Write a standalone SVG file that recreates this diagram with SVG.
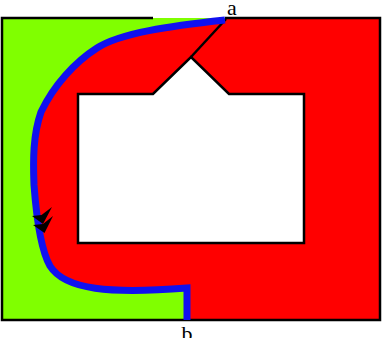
<svg xmlns="http://www.w3.org/2000/svg" width="388" height="338" viewBox="0 0 388 338">
<style>
.edge{fill:none;stroke:#000;stroke-width:2.5}
.lbl{font-family:"Liberation Serif","DejaVu Serif",serif;font-size:22px;fill:#000;text-anchor:middle}
.arr{fill:#000}
</style>
<rect width="388" height="338" fill="#fff"/>
<g id="region">
<rect x="2" y="18" width="378" height="302" fill="#ff0000"/>
<path id="green" fill="#80ff00" d="M2,18 L225,18 L225,20 C170,26 120,33 97,48 C75,62 54,85 41,112 C33,135 33,160 34,185 C37,225 42,252 50,266 C65,290 110,294 187,288 L187,320 L2,320 Z"/>
<path id="hole" fill="#fff" d="M78,94 L153,94 L191,57 L229,94 L304,94 L304,243 L78,243 Z"/>
</g>
<g id="outline">
<path class="edge" d="M153,18 L2,18 L2,320 L380,320 L380,18 L225,18"/>
<path class="edge" d="M78,94 L153,94 L191,57 L229,94 L304,94 L304,243 L78,243 Z"/>
<path class="edge" d="M191,57 L226,19"/>
</g>
<g id="connectors">
<path d="M225,20 C170,26 120,33 97,48 C75,62 54,85 41,112 C33,135 33,160 34,185 C37,225 42,252 50,266 C65,290 110,294 187,288 L187,320" fill="none" stroke="#1010f0" stroke-width="7" stroke-linejoin="miter"/>
<path class="arr" d="M43,224 L52,207 L41.5,215 L32,216 Z"/>
<path class="arr" d="M44.5,233 L53,216 L43,224 L33,225 Z"/>
</g>
<g id="labels">
<text class="lbl" x="232" y="15">a</text>
<text class="lbl" x="187" y="341">b</text>
</g>
</svg>
